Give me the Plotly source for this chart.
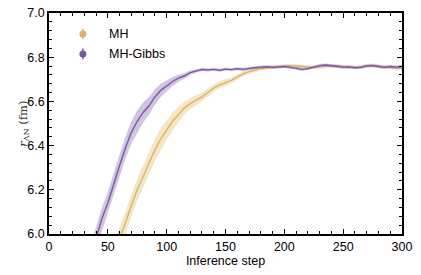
import plotly.graph_objects as go

# Inference steps (sampled every 5 steps)
steps_gibbs = list(range(30, 301, 5))
steps_mh = list(range(50, 301, 5))

gibbs_mean = [5.75, 5.90, 5.98, 6.07, 6.14, 6.23, 6.31, 6.39, 6.46, 6.51, 6.55, 6.58,
              6.62, 6.65, 6.67, 6.69, 6.705, 6.715, 6.73, 6.738, 6.744, 6.742, 6.745,
              6.741, 6.746, 6.744, 6.748, 6.745, 6.750, 6.752, 6.755, 6.757, 6.754,
              6.756, 6.758, 6.754, 6.750, 6.745, 6.748, 6.756, 6.762, 6.765, 6.760,
              6.758, 6.755, 6.756, 6.752, 6.754, 6.760, 6.762, 6.758, 6.754, 6.758,
              6.755, 6.758]
gibbs_err = [0.05, 0.05, 0.05, 0.05, 0.05, 0.05, 0.05, 0.05, 0.05, 0.05, 0.045, 0.04,
             0.035, 0.03, 0.025, 0.02, 0.016, 0.013, 0.01] + [0.007] * 36

mh_mean = [5.82, 5.91, 5.98, 6.05, 6.13, 6.20, 6.26, 6.32, 6.38, 6.43, 6.47, 6.51,
           6.54, 6.57, 6.59, 6.605, 6.62, 6.64, 6.66, 6.675, 6.685, 6.695, 6.71,
           6.725, 6.735, 6.742, 6.748, 6.752, 6.755, 6.758, 6.760, 6.762, 6.760,
           6.758, 6.756, 6.754, 6.757, 6.758, 6.760, 6.762, 6.758, 6.755, 6.754,
           6.757, 6.762, 6.763, 6.760, 6.756, 6.752, 6.750, 6.750]
mh_err = [0.05, 0.05, 0.05, 0.05, 0.05, 0.05, 0.05, 0.05, 0.05, 0.05, 0.045, 0.04,
          0.035, 0.03, 0.025, 0.022, 0.02, 0.019, 0.018, 0.016, 0.015, 0.013, 0.012,
          0.011, 0.01, 0.009] + [0.008] * 25

series_names = ["MH", "MH-Gibbs"]
x_ticks = [0, 50, 100, 150, 200, 250, 300]
y_ticks = [6.0, 6.2, 6.4, 6.6, 6.8, 7.0]

series = [
    (series_names[0], steps_mh, mh_mean, mh_err, "#D9B466", "rgba(232,204,140,0.5)"),
    (series_names[1], steps_gibbs, gibbs_mean, gibbs_err, "#7A58A4", "rgba(150,124,188,0.45)"),
]

FONT = "Liberation Sans, Arial, sans-serif"

fig = go.Figure()
for name, xs, ys, es, lc, fc in series:
    upper = [y + e for y, e in zip(ys, es)]
    lower = [y - e for y, e in zip(ys, es)]
    fig.add_trace(go.Scatter(
        x=xs + xs[::-1], y=upper + lower[::-1], fill="toself", fillcolor=fc,
        line=dict(width=0), mode="lines", hoverinfo="skip", showlegend=False))
    fig.add_trace(go.Scatter(
        x=xs, y=ys, mode="lines", name=name,
        line=dict(color=lc, width=1.4), showlegend=False))

# Legend drawn on an overlay axis (0..1 in both directions) with errorbar-style markers
legend_y = [0.905, 0.815]
for (name, _, _, _, lc, _), ly in zip(series, legend_y):
    fig.add_trace(go.Scatter(
        x=[0.096], y=[ly], mode="markers", xaxis="x2", yaxis="y2", showlegend=False,
        hoverinfo="skip",
        marker=dict(color=lc, size=7, symbol="circle"),
        error_y=dict(type="constant", value=0.024, color=lc, thickness=1.5, width=0)))
    fig.add_annotation(text=name, xref="paper", yref="paper", x=0.165, y=ly,
                       xanchor="left", yanchor="middle", showarrow=False,
                       font=dict(family=FONT, size=12.5, color="black"))

axis_common = dict(
    showline=True, linecolor="black", linewidth=1.8, mirror="ticks",
    ticks="inside", ticklen=5, tickwidth=1.3, tickcolor="black",
    showgrid=False, zeroline=False, automargin=False,
    tickfont=dict(family=FONT, size=12.5, color="black"),
)

fig.update_layout(
    xaxis=dict(range=[0, 300], tickvals=x_ticks, ticktext=[str(v) for v in x_ticks],
               minor=dict(dtick=10, ticks="inside", ticklen=3, tickwidth=1, tickcolor="black"),
               title=dict(text="Inference step", font=dict(family=FONT, size=12.5, color="black"),
                          standoff=2),
               **axis_common),
    yaxis=dict(range=[6.0, 7.0], tickvals=y_ticks, ticktext=[f"{v:.1f}" for v in y_ticks],
               minor=dict(dtick=0.04, tick0=6.0, ticks="inside", ticklen=3, tickwidth=1, tickcolor="black"),
               **axis_common),
    xaxis2=dict(overlaying="x", range=[0, 1], visible=False, fixedrange=True),
    yaxis2=dict(overlaying="y", range=[0, 1], visible=False, fixedrange=True),
)

fig.add_annotation(text="<i>r</i><sub>ΛN</sub> (fm)", xref="paper", yref="paper",
                   x=-0.1, y=0.5, textangle=-90, showarrow=False,
                   font=dict(family="DejaVu Serif, serif", size=11.5, color="#333333"))

fig.update_layout(
    width=421, height=275,
    margin=dict(l=49, r=19, t=13, b=41, autoexpand=False),
    plot_bgcolor="white", paper_bgcolor="white",
    showlegend=False,
)

fig.write_html("out.html", config={"displayModeBar": False},
               post_script="document.body.style.margin='0';document.body.style.overflow='hidden';")
